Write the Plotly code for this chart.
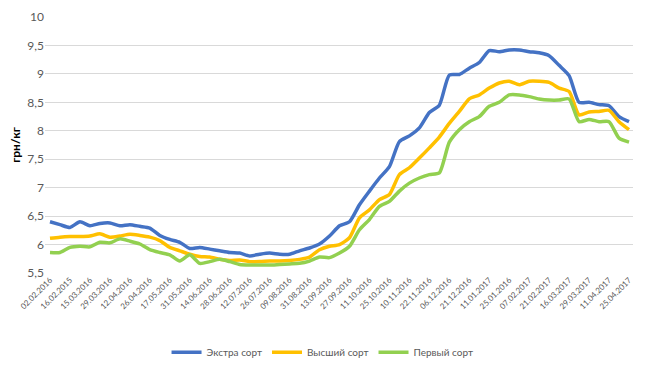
import plotly.graph_objects as go

tick_labels = ["02.02.2016", "16.02.2015", "15.03.2016", "29.03.2016", "12.04.2016", "26.04.2016",
               "17.05.2016", "31.05.2016", "14.06.2016", "28.06.2016", "12.07.2016", "26.07.2016",
               "09.08.2016", "31.08.2016", "13.09.2016", "27.09.2016", "11.10.2016", "25.10.2016",
               "10.11.2016", "22.11.2016", "06.12.2016", "21.12.2016", "11.01.2017", "25.01.2016",
               "07.02.2017", "21.02.2017", "16.03.2017", "29.03.2017", "11.04.2017", "25.04.2017"]

extra = [6.40, 6.35, 6.30, 6.40, 6.33, 6.37, 6.38, 6.33, 6.35, 6.32,
         6.29, 6.16, 6.09, 6.04, 5.93, 5.95, 5.92, 5.89, 5.86, 5.85,
         5.80, 5.83, 5.85, 5.83, 5.83, 5.89, 5.94, 6.01, 6.15, 6.33,
         6.40, 6.70, 6.94, 7.17, 7.37, 7.81, 7.91, 8.05, 8.32, 8.45,
         8.98, 8.99, 9.10, 9.20, 9.41, 9.39, 9.42, 9.42, 9.39, 9.37,
         9.32, 9.15, 8.97, 8.50, 8.50, 8.46, 8.44, 8.25, 8.16]

higher = [6.11, 6.13, 6.14, 6.14, 6.15, 6.19, 6.13, 6.15, 6.18, 6.16,
          6.13, 6.07, 5.95, 5.89, 5.83, 5.79, 5.78, 5.74, 5.72, 5.73,
          5.70, 5.70, 5.71, 5.71, 5.72, 5.74, 5.78, 5.91, 5.97, 6.00,
          6.12, 6.47, 6.61, 6.79, 6.88, 7.23, 7.35, 7.52, 7.70, 7.89,
          8.13, 8.34, 8.56, 8.63, 8.75, 8.84, 8.87, 8.81, 8.87, 8.87,
          8.85, 8.75, 8.69, 8.28, 8.33, 8.34, 8.36, 8.16, 8.02]

first = [5.86, 5.86, 5.95, 5.97, 5.96, 6.04, 6.03, 6.10, 6.06, 6.01,
         5.91, 5.86, 5.82, 5.71, 5.82, 5.67, 5.70, 5.74, 5.70, 5.65,
         5.64, 5.64, 5.64, 5.65, 5.66, 5.67, 5.71, 5.78, 5.77, 5.85,
         5.97, 6.26, 6.44, 6.67, 6.76, 6.94, 7.08, 7.17, 7.23, 7.26,
         7.80, 8.02, 8.16, 8.25, 8.43, 8.50, 8.63, 8.63, 8.60, 8.56,
         8.54, 8.54, 8.56, 8.16, 8.20, 8.16, 8.16, 7.87, 7.80]

y_ticks = [5.5, 6, 6.5, 7, 7.5, 8, 8.5, 9, 9.5, 10]
y_tick_text = ["5,5", "6", "6,5", "7", "7,5", "8", "8,5", "9", "9,5", "10"]

series = [("Экстра сорт", extra, "#4472C4"),
          ("Высший сорт", higher, "#FFC000"),
          ("Первый сорт", first, "#92D050")]

x = list(range(len(extra)))

fig = go.Figure()
for name, vals, color in series:
    fig.add_trace(go.Scatter(x=x, y=vals, name=name, mode="lines",
                             line=dict(color=color, width=3.5, shape="spline", smoothing=0.6)))

font_family = "Lato, Noto Sans, sans-serif"
fig.update_layout(
    width=650, height=369,
    margin=dict(l=37, r=25, t=9, b=104, autoexpand=False),
    paper_bgcolor="white", plot_bgcolor="white",
    font=dict(family=font_family, color="#595959", size=11),
    showlegend=True,
    legend=dict(orientation="h", x=0.472, xanchor="center", y=-0.31, yanchor="middle",
                font=dict(size=10, color="#595959"), itemwidth=30),
    xaxis=dict(range=[-0.5, 58.4], tickmode="array", tickvals=list(range(0, len(extra), 2)),
               ticktext=tick_labels, tickangle=-45, tickfont=dict(size=8, color="#595959"),
               showgrid=False, zeroline=False, showline=False, ticks="", automargin=False),
    yaxis=dict(range=[5.5, 10], tickmode="array", tickvals=y_ticks, ticktext=y_tick_text,
               showgrid=True, gridcolor="#D9D9D9", gridwidth=1, zeroline=False, showline=False,
               tickfont=dict(size=12, color="#595959"), ticks="", ticklen=0, automargin=False,
               title=dict(text="<b>грн/кг</b>", font=dict(size=12, color="#000000"), standoff=12)),
)

fig.write_html("out.html")
